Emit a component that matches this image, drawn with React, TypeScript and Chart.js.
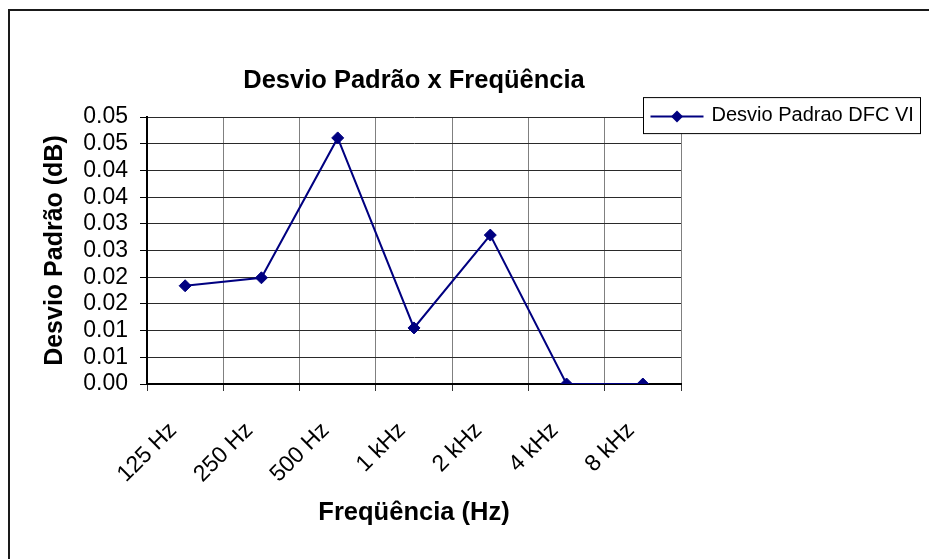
import React, { useEffect, useRef } from 'react';
import { Chart, registerables } from 'chart.js';

Chart.register(...registerables);

const categories = ['125 Hz', '250 Hz', '500 Hz', '1 kHz', '2 kHz', '4 kHz', '8 kHz'];
const desvioPadrao = [0.0184, 0.0199, 0.0461, 0.0105, 0.0279, 0, 0];
const yTickValues = [0, 0.005, 0.01, 0.015, 0.02, 0.025, 0.03, 0.035, 0.04, 0.045, 0.05];
const yTickLabels = ['0.00', '0.01', '0.01', '0.02', '0.02', '0.03', '0.03', '0.04', '0.04', '0.05', '0.05'];
const seriesLabel = 'Desvio Padrao DFC VI';
const chartTitle = 'Desvio Padrão x Freqüência';
const xTitle = 'Freqüência (Hz)';
const yTitle = 'Desvio Padrão (dB)';

const FONT = "'Liberation Sans', Arial, sans-serif";
const NAVY = '#000080';

const framePlugin = {
  id: 'frame',
  beforeDraw(chart: any) {
    const ctx = chart.ctx;
    ctx.save();
    ctx.fillStyle = '#ffffff';
    ctx.fillRect(0, 0, chart.width, chart.height);
    ctx.strokeStyle = '#1a1a1a';
    ctx.lineWidth = 2;
    ctx.beginPath();
    ctx.moveTo(9, chart.height);
    ctx.lineTo(9, 10);
    ctx.lineTo(chart.width, 10);
    ctx.stroke();
    ctx.restore();
  },
};

const legendPlugin = {
  id: 'excelLegend',
  afterDraw(chart: any) {
    const ctx = chart.ctx;
    const ds = chart.data.datasets[0];
    const area = chart.chartArea;
    const x0 = area.right - 37.5;
    const y0 = area.top - 19.5;
    const w = 277;
    const h = 36;
    const cy = y0 + 19;
    ctx.save();
    ctx.fillStyle = '#ffffff';
    ctx.fillRect(x0, y0, w, h);
    ctx.strokeStyle = '#000000';
    ctx.lineWidth = 1;
    ctx.strokeRect(x0, y0, w, h);
    ctx.strokeStyle = ds.borderColor;
    ctx.lineWidth = 2;
    ctx.beginPath();
    ctx.moveTo(x0 + 7, cy);
    ctx.lineTo(x0 + 60, cy);
    ctx.stroke();
    const mx = x0 + 33.5;
    const r = 6;
    ctx.fillStyle = ds.backgroundColor;
    ctx.beginPath();
    ctx.moveTo(mx - r, cy);
    ctx.lineTo(mx, cy - r);
    ctx.lineTo(mx + r, cy);
    ctx.lineTo(mx, cy + r);
    ctx.closePath();
    ctx.fill();
    ctx.fillStyle = '#000000';
    ctx.font = `20px ${FONT}`;
    ctx.textAlign = 'left';
    ctx.textBaseline = 'middle';
    ctx.fillText(ds.label, x0 + 68, cy - 1);
    ctx.restore();
  },
};

export default function App() {
  const ref = useRef<HTMLCanvasElement | null>(null);

  useEffect(() => {
    if (!ref.current) return;
    const chart = new Chart(ref.current, {
      type: 'line',
      data: {
        labels: categories,
        datasets: [
          {
            label: seriesLabel,
            data: desvioPadrao,
            borderColor: NAVY,
            backgroundColor: NAVY,
            borderWidth: 2,
            pointStyle: 'rectRot',
            pointRadius: 6,
            pointBackgroundColor: NAVY,
            pointBorderColor: NAVY,
            pointBorderWidth: 1,
            tension: 0,
          },
        ],
      },
      options: {
        animation: false,
        responsive: false,
        maintainAspectRatio: false,
        layout: { padding: { top: 10, left: 20, right: 248, bottom: 20 } },
        plugins: {
          legend: { display: false },
          tooltip: { enabled: false },
          title: {
            display: true,
            text: chartTitle,
            fullSize: false,
            color: '#000000',
            font: { family: FONT, size: 25.5, weight: 'bold', lineHeight: 1.2 },
            padding: { top: 55.5, bottom: 21 },
          },
        },
        scales: {
          x: {
            type: 'category',
            offset: true,
            grid: {
              offset: true,
              color: '#808080',
              lineWidth: 1,
              drawTicks: true,
              tickLength: 7,
              tickColor: '#333333',
            },
            border: { display: true, color: '#000000', width: 2 },
            ticks: {
              color: '#000000',
              font: { family: FONT, size: 23 },
              minRotation: 45,
              maxRotation: 45,
              autoSkip: false,
              padding: 26,
              labelOffset: -12,
            },
            title: {
              display: true,
              text: xTitle,
              color: '#000000',
              font: { family: FONT, size: 25.5, weight: 'bold', lineHeight: 1.2 },
              padding: { top: 0, bottom: 11 },
            },
            afterFit(scale: any) {
              scale.height = 155;
            },
          },
          y: {
            min: 0,
            max: 0.05,
            afterBuildTicks(scale: any) {
              scale.ticks = yTickValues.map((v) => ({ value: v }));
            },
            grid: {
              color: '#2a2a2a',
              lineWidth: 1,
              drawTicks: true,
              tickLength: 7,
              tickColor: '#000000',
            },
            border: { display: true, color: '#000000', width: 2 },
            ticks: {
              color: '#000000',
              font: { family: FONT, size: 23, lineHeight: 1 },
              padding: 12,
              autoSkip: false,
              callback: (_v: any, i: number) => yTickLabels[i],
            },
            title: {
              display: true,
              text: yTitle,
              color: '#000000',
              font: { family: FONT, size: 25, weight: 'bold', lineHeight: 1.2 },
              padding: { top: 20, bottom: 0 },
            },
            afterFit(scale: any) {
              scale.width = 127;
            },
          },
        },
      },
      plugins: [framePlugin, legendPlugin],
    } as any);
    return () => chart.destroy();
  }, []);

  return (
    <div style={{ position: 'absolute', left: 0, top: 0, width: 929, height: 559 }}>
      <canvas ref={ref} width={929} height={559} style={{ width: 929, height: 559, display: 'block' }} />
    </div>
  );
}
